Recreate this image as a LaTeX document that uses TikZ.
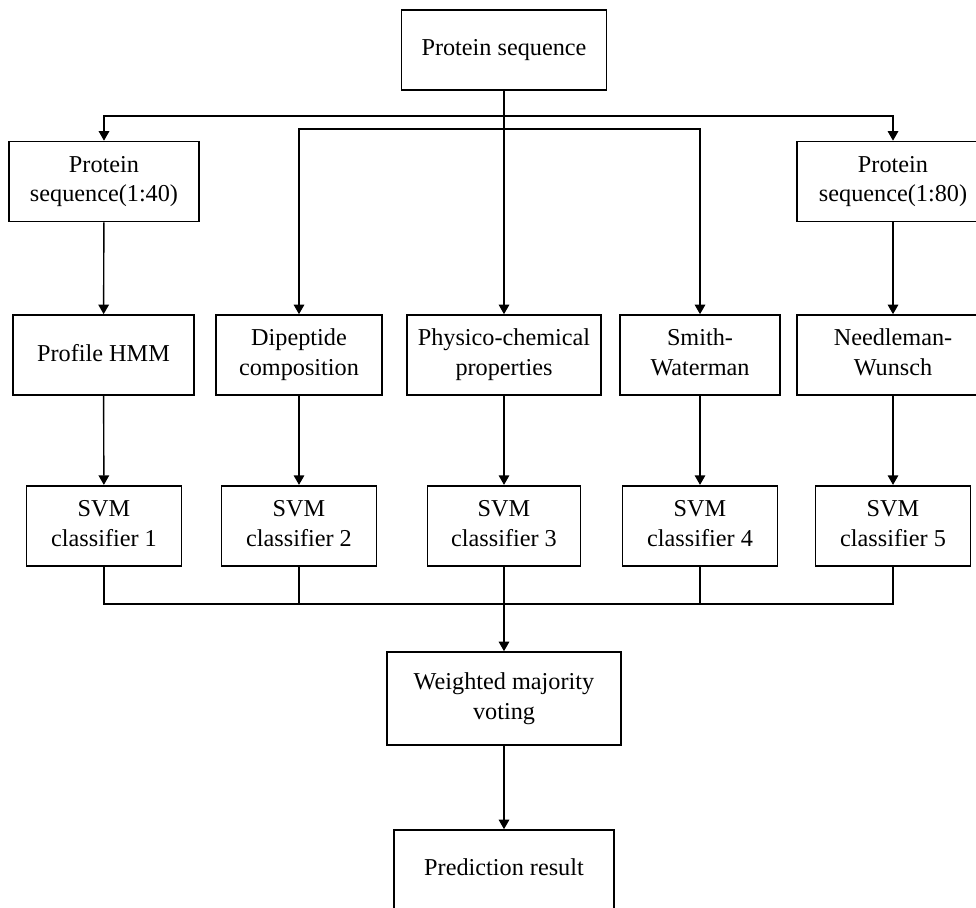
\documentclass[tikz,border=0pt]{standalone}
\usepackage{fontspec}
\setmainfont{Liberation Serif}
\usepackage{tikz}
\usetikzlibrary{positioning, calc, arrows.meta}

\begin{document}
\begin{tikzpicture}[x=0.02cm, y=-0.02cm,
    box/.style={draw, line width=0.95pt, align=center, minimum height=1.6cm,
      inner sep=2pt, text depth=0.1cm,
      font=\fontsize{13.8}{17}\selectfont},
    arr/.style={line width=0.8pt, -{Triangle[length=0.19cm, width=0.21cm]}},
    ln/.style={line width=0.8pt}]
      \useasboundingbox (0,0) rectangle (976,907);
      % boxes
      \node[box, minimum width=4.1cm] (top) at (504,50) {Protein sequence};
      \node[box, minimum width=3.8cm] (p40) at (104,181.5) {Protein\\sequence(1:40)};
      \node[box, minimum width=3.84cm] (p80) at (893,181.5) {Protein\\sequence(1:80)};
      \node[box, minimum width=3.62cm] (hmm) at (103.5,355) {Profile HMM};
      \node[box, minimum width=3.32cm] (dip) at (299,355) {Dipeptide\\composition};
      \node[box, minimum width=3.88cm] (phys) at (504,355) {Physico-chemical\\properties};
      \node[box, minimum width=3.2cm] (smith) at (700,355) {Smith-\\Waterman};
      \node[box, minimum width=3.84cm] (need) at (893,355) {Needleman-\\Wunsch};
      \node[box, minimum width=3.1cm] (svm1) at (104,525.7) {SVM\\classifier 1};
      \node[box, minimum width=3.1cm] (svm2) at (299,525.7) {SVM\\classifier 2};
      \node[box, minimum width=3.06cm] (svm3) at (504,525.7) {SVM\\classifier 3};
      \node[box, minimum width=3.1cm] (svm4) at (700,525.7) {SVM\\classifier 4};
      \node[box, minimum width=3.1cm] (svm5) at (893,525.7) {SVM\\classifier 5};
      \node[box, minimum width=4.68cm, minimum height=1.86cm] (vote) at (504,698.5) {Weighted majority\\voting};
      \node[box, minimum width=4.4cm] (pred) at (504,870) {Prediction result};
      \coordinate (bus1) at (504,116);
      \coordinate (bus2) at (504,129);
      \coordinate (join) at (504,604);
      % split
      \draw[arr] (top) -- (phys);
      \draw[arr] (bus1) -| (p40);
      \draw[arr] (bus1) -| (p80);
      \draw[arr] (bus2) -| (dip);
      \draw[arr] (bus2) -| (smith);
      \draw[arr] (p40) -- (hmm);
      \draw[arr] (p80) -- (need);
      \draw[arr] (hmm) -- (svm1);
      \draw[arr] (dip) -- (svm2);
      \draw[arr] (phys) -- (svm3);
      \draw[arr] (smith) -- (svm4);
      \draw[arr] (need) -- (svm5);
      % merge
      \draw[ln] (svm1) |- (join);
      \draw[ln] (svm5) |- (join);
      \draw[ln] (svm2) -- (svm2 |- join);
      \draw[ln] (svm4) -- (svm4 |- join);
      \draw[arr] (svm3) -- (vote);
      \draw[arr] (vote) -- (pred);
\end{tikzpicture}
\end{document}
